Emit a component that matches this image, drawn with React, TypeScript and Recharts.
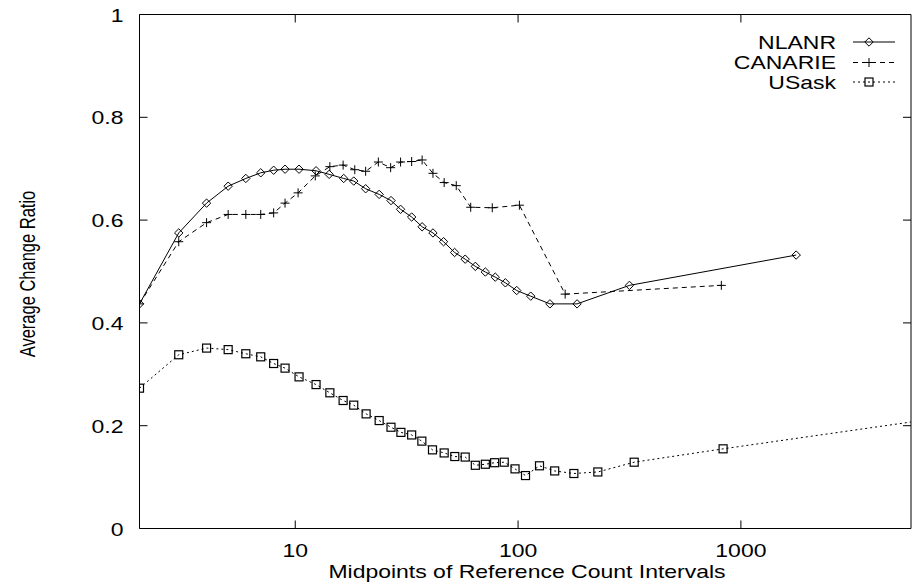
import React from 'react';
import { LineChart, Line, XAxis, YAxis, Legend } from 'recharts';

// ---------- data ----------
const nlanrX = [2, 3, 4, 5, 6, 7, 8, 9, 10.4, 12.4, 14.2, 16.5, 18.3, 20.7, 23.8, 26.9, 29.7, 33.3, 37.1, 41.5, 46.3, 51.9, 57.9, 64.3, 71.3, 79, 87.7, 98.6, 114, 139, 184, 316, 1770];
const nlanrY = [0.437, 0.575, 0.633, 0.666, 0.681, 0.692, 0.697, 0.699, 0.699, 0.696, 0.689, 0.681, 0.676, 0.661, 0.65, 0.638, 0.621, 0.606, 0.587, 0.575, 0.558, 0.537, 0.524, 0.51, 0.499, 0.489, 0.478, 0.463, 0.452, 0.437, 0.437, 0.473, 0.532];

const canarieX = [2, 3, 4, 5, 6, 7, 8, 9, 10.3, 12.3, 14.3, 16.4, 18.5, 20.7, 23.6, 26.8, 29.7, 33.3, 37.1, 41.5, 46.6, 52.8, 61.3, 76.6, 101.4, 162.7, 817];
const canarieY = [0.437, 0.558, 0.595, 0.611, 0.611, 0.611, 0.614, 0.633, 0.653, 0.686, 0.704, 0.707, 0.698, 0.695, 0.713, 0.702, 0.713, 0.714, 0.717, 0.691, 0.673, 0.667, 0.625, 0.624, 0.629, 0.456, 0.473];

const usaskX = [2, 3, 4, 5, 6, 7, 8, 9, 10.4, 12.4, 14.3, 16.4, 18.3, 20.8, 23.8, 26.9, 29.8, 33.3, 37, 41.3, 46.6, 52, 57.9, 64.3, 71.3, 78.5, 86.7, 96.9, 108, 124.8, 146, 178, 228, 332, 832, 9000];
const usaskY = [0.273, 0.338, 0.351, 0.348, 0.34, 0.334, 0.321, 0.312, 0.295, 0.28, 0.264, 0.249, 0.24, 0.223, 0.21, 0.197, 0.187, 0.182, 0.17, 0.153, 0.147, 0.14, 0.139, 0.123, 0.125, 0.128, 0.129, 0.116, 0.103, 0.122, 0.112, 0.107, 0.11, 0.129, 0.155, 0.219];

const seriesNames = ['NLANR', 'CANARIE', 'USask'];
const xTicks = [10, 100, 1000];
const yTicks = [0, 0.2, 0.4, 0.6, 0.8, 1];
const xDomain = [2, 5800];
const yDomain = [0, 1];
const xTitle = 'Midpoints of Reference Count Intervals';
const yTitle = 'Average Change Ratio';

const toRows = (xs: number[], ys: number[]) => xs.map((x, i) => ({ x, y: ys[i] }));
const nlanrData = toRows(nlanrX, nlanrY);
const canarieData = toRows(canarieX, canarieY);
const usaskData = toRows(usaskX, usaskY);

// ---------- styling ----------
const W = 912;
const H = 582;
const FONT = '"Liberation Sans", Arial, Helvetica, sans-serif';
const FS = 19;
const SX = 1.21;
const TICK = 8;

const HText = ({ x, y, anchor, children }: any) => (
  <text
    transform={`translate(${x},${y}) scale(${SX},1)`}
    textAnchor={anchor}
    fontFamily={FONT}
    fontSize={FS}
    fill="#000"
  >
    {children}
  </text>
);

const Diamond = ({ cx, cy }: any) =>
  cx == null || cy == null ? null : (
    <path d={`M${cx},${cy - 4.2}L${cx + 4.2},${cy}L${cx},${cy + 4.2}L${cx - 4.2},${cy}Z`} fill="none" stroke="#000" strokeWidth={1} />
  );
const Plus = ({ cx, cy }: any) =>
  cx == null || cy == null ? null : (
    <path d={`M${cx - 4.5},${cy}H${cx + 4.5}M${cx},${cy - 4.5}V${cy + 4.5}`} fill="none" stroke="#000" strokeWidth={1} />
  );
const Square = ({ cx, cy }: any) =>
  cx == null || cy == null ? null : (
    <rect x={cx - 4} y={cy - 4} width={8} height={8} fill="none" stroke="#000" strokeWidth={1.2} />
  );

const XTickBottom = (p: any) => (
  <g>
    <line x1={p.x} x2={p.x} y1={p.y} y2={p.y - TICK} stroke="#000" />
    <HText x={p.x} y={p.y + 28.5} anchor="middle">{String(p.payload.value)}</HText>
  </g>
);
const XTickTop = (p: any) => (
  <line x1={p.x} x2={p.x} y1={p.y} y2={p.y + TICK} stroke="#000" />
);
const YTickLeft = (p: any) => (
  <g>
    <line x1={p.x} x2={p.x + TICK} y1={p.y} y2={p.y} stroke="#000" />
    <HText x={p.x - 16} y={p.y + 7} anchor="end">{String(p.payload.value)}</HText>
  </g>
);
const YTickRight = (p: any) => (
  <line x1={p.x} x2={p.x - TICK} y1={p.y} y2={p.y} stroke="#000" />
);

const legendRows = [
  { dash: undefined, Marker: Diamond, y: 42 },
  { dash: '5 4', Marker: Plus, y: 62.5 },
  { dash: '2 3', Marker: Square, y: 82 },
];

const LegendOverlay = () => (
  <svg width={W} height={H} style={{ position: 'absolute', left: 0, top: 0, pointerEvents: 'none' }}>
    {seriesNames.map((name, i) => {
      const r = legendRows[i];
      return (
        <g key={name}>
          <HText x={836} y={r.y + 6.8} anchor="end">{name}</HText>
          <line x1={853} x2={895} y1={r.y} y2={r.y} stroke="#000" strokeWidth={1} strokeDasharray={r.dash} />
          <r.Marker cx={869} cy={r.y} />
        </g>
      );
    })}
    <HText x={527} y={577.5} anchor="middle">{xTitle}</HText>
    <text
      transform={`translate(35,274) rotate(-90) scale(1,1.39)`}
      textAnchor="middle"
      fontFamily={FONT}
      fontSize={16.5}
      fill="#000"
    >
      {yTitle}
    </text>
  </svg>
);

const axisLineStyle = { stroke: '#000', strokeWidth: 1 };

export default function App() {
  return (
    <div style={{ position: 'absolute', left: 0, top: 0, width: W, height: H, background: '#fff' }}>
      <LineChart width={W} height={H} margin={{ top: 13.5, right: 0, bottom: 52.5, left: 138.5 }}>
        <XAxis
          xAxisId="b"
          dataKey="x"
          type="number"
          scale="log"
          domain={xDomain}
          allowDataOverflow
          ticks={xTicks}
          interval={0}
          height={1}
          tickSize={0}
          tickMargin={0}
          tickLine={false}
          axisLine={axisLineStyle}
          tick={<XTickBottom />}
          orientation="bottom"
        />
        <XAxis
          xAxisId="t"
          dataKey="x"
          type="number"
          scale="log"
          domain={xDomain}
          allowDataOverflow
          ticks={xTicks}
          interval={0}
          height={1}
          tickSize={0}
          tickMargin={0}
          tickLine={false}
          axisLine={axisLineStyle}
          tick={<XTickTop />}
          orientation="top"
        />
        <YAxis
          yAxisId="l"
          type="number"
          domain={yDomain}
          allowDataOverflow
          ticks={yTicks}
          interval={0}
          width={1}
          tickSize={0}
          tickMargin={0}
          tickLine={false}
          axisLine={axisLineStyle}
          tick={<YTickLeft />}
          orientation="left"
        />
        <YAxis
          yAxisId="r"
          type="number"
          domain={yDomain}
          allowDataOverflow
          ticks={yTicks}
          interval={0}
          width={1}
          tickSize={0}
          tickMargin={0}
          tickLine={false}
          axisLine={axisLineStyle}
          tick={<YTickRight />}
          orientation="right"
        />
        <Line
          xAxisId="b"
          yAxisId="l"
          data={nlanrData}
          dataKey="y"
          name={seriesNames[0]}
          stroke="#000"
          strokeWidth={1}
          dot={<Diamond />}
          activeDot={false}
          isAnimationActive={false}
        />
        <Line
          xAxisId="b"
          yAxisId="l"
          data={canarieData}
          dataKey="y"
          name={seriesNames[1]}
          stroke="#000"
          strokeWidth={1}
          strokeDasharray="5 4"
          dot={<Plus />}
          activeDot={false}
          isAnimationActive={false}
        />
        <Line
          xAxisId="b"
          yAxisId="l"
          data={usaskData}
          dataKey="y"
          name={seriesNames[2]}
          stroke="#000"
          strokeWidth={1}
          strokeDasharray="2 3"
          dot={<Square />}
          activeDot={false}
          isAnimationActive={false}
        />
        <Legend
          verticalAlign="middle"
          align="center"
          wrapperStyle={{ left: 0, top: 0, width: 0, height: 0 }}
          content={() => <LegendOverlay />}
        />
      </LineChart>
    </div>
  );
}
